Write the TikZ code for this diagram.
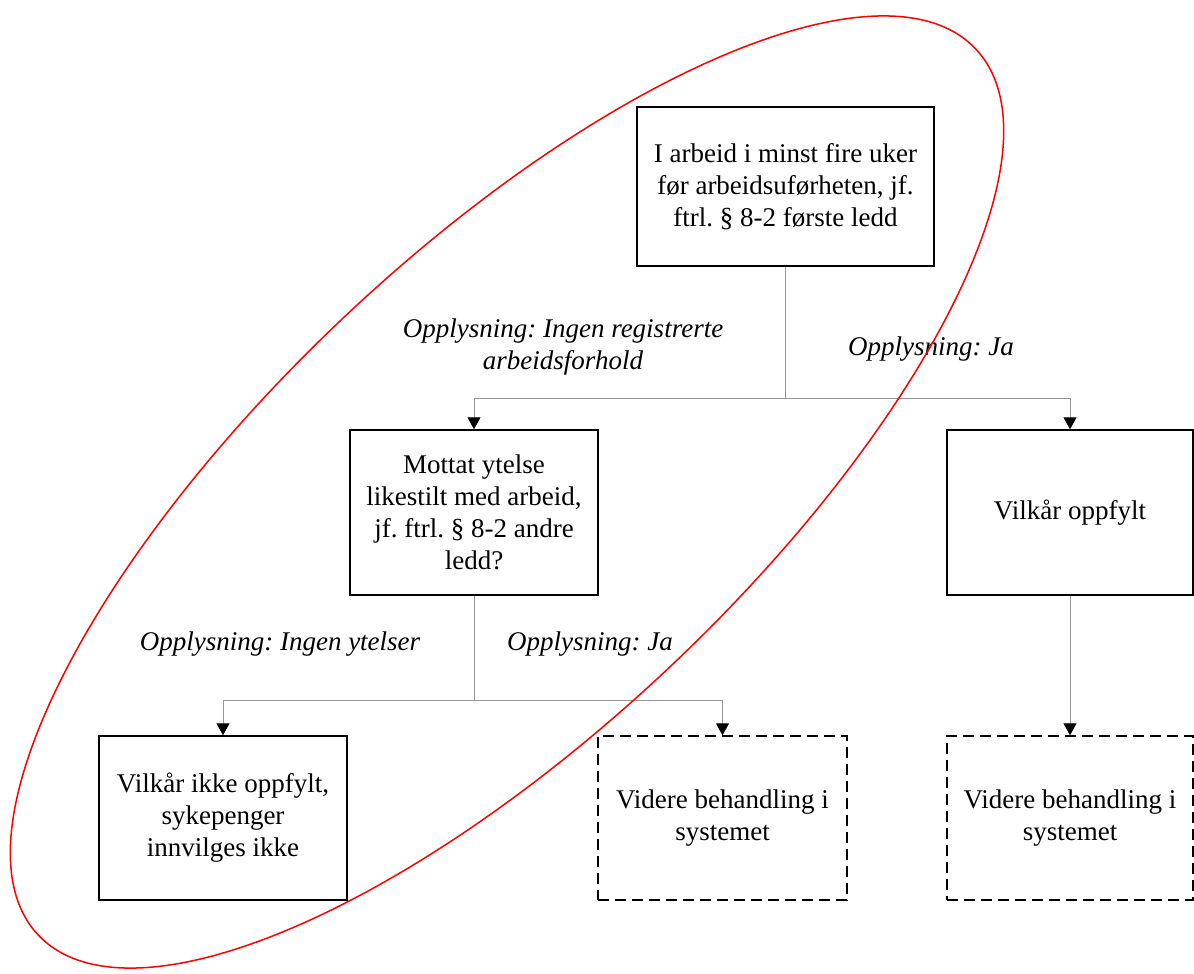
\documentclass[tikz,border=0pt]{standalone}
\usepackage{fontspec}
\setmainfont{Liberation Serif}
\usetikzlibrary{arrows.meta}
\definecolor{conncol}{RGB}{150,150,150}
\frenchspacing
\begin{document}
\begin{tikzpicture}[x=1pt,y=-1pt,
  box/.style={draw=black,line width=1.4pt,fill=none,align=center,inner sep=0pt,
    font=\fontsize{27}{32}\selectfont},
  dbox/.style={box,dash pattern=on 11pt off 6pt},
  conn/.style={draw=conncol,line width=1pt},
  arr/.style={conn,-{Triangle[length=12pt,width=13pt,black]}},
  lbl/.style={align=center,inner sep=0pt,font=\fontsize{27}{32}\selectfont\itshape}]
\useasboundingbox (0,0) rectangle (1194,974);
\node[box,minimum width=297pt,minimum height=159pt] (top) at (785.5,186.5)
  {I arbeid i minst fire uker\\før arbeidsuførheten, jf.\\ftrl. § 8-2 første ledd};
\node[box,minimum width=248pt,minimum height=165pt] (mid) at (474,512.5)
  {Mottat ytelse\\likestilt med arbeid,\\jf. ftrl. § 8-2 andre\\ledd?};
\node[box,minimum width=246pt,minimum height=165pt] (ok) at (1070,512.5)
  {Vilkår oppfylt};
\node[box,minimum width=248pt,minimum height=164pt] (fail) at (223,818)
  {Vilkår ikke oppfylt,\\sykepenger\\innvilges ikke};
\node[dbox,minimum width=249pt,minimum height=164pt] (next1) at (722.5,818)
  {Videre behandling i\\systemet};
\node[dbox,minimum width=246pt,minimum height=164pt] (next2) at (1070,818)
  {Videre behandling i\\systemet};
\coordinate (j1) at (785.5,398);
\coordinate (j2) at (474,700);
\draw[conn] (top.south) -- (j1);
\draw[arr] (j1) -| (mid.north);
\draw[arr] (j1) -| (ok.north);
\draw[conn] (mid.south) -- (j2);
\draw[arr] (j2) -| (fail.north);
\draw[arr] (j2) -| (next1.north);
\draw[arr] (ok.south) -- (next2.north);
\node[lbl] (l1) at (563,347) {Opplysning: Ingen registrerte\\arbeidsforhold};
\node[lbl] (l2) at (931,349) {Opplysning: Ja};
\node[lbl] (l3) at (280,644) {Opplysning: Ingen ytelser};
\node[lbl] (l4) at (590,644) {Opplysning: Ja};
\draw[red,line width=1.5pt] (507pt,-492pt) ellipse [x radius=645pt,y radius=239pt,rotate=43.4];
\end{tikzpicture}
\end{document}
